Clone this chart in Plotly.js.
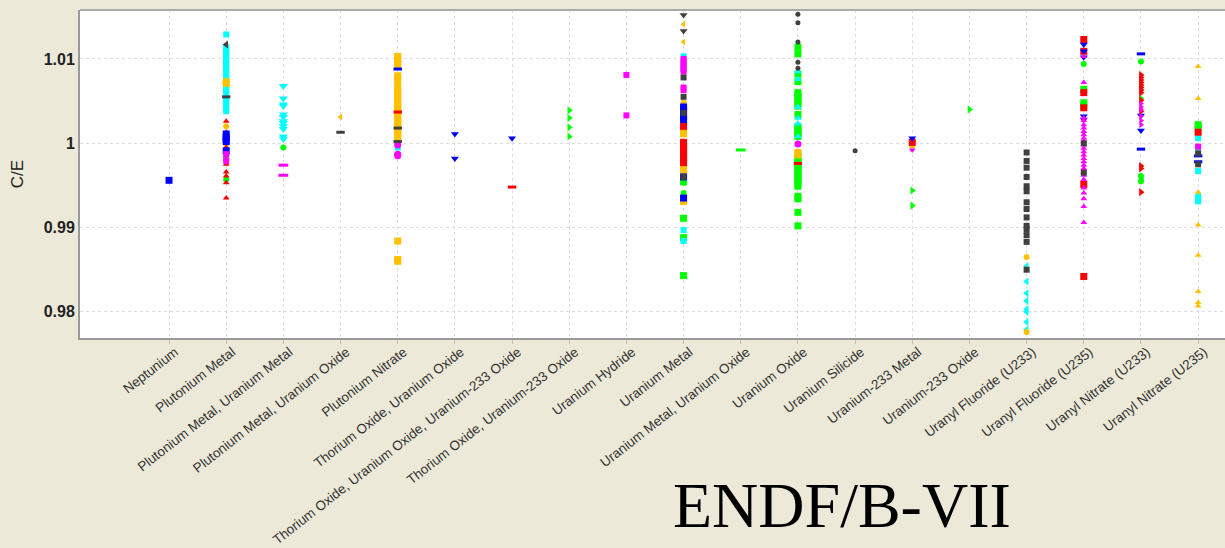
<!DOCTYPE html>
<html><head><meta charset="utf-8">
<script src="https://cdn.plot.ly/plotly-3.0.1.min.js"></script>
<style>html,body{margin:0;padding:0;background:#ECE9D8;}#chart{width:1225px;height:548px;}</style>
</head><body><div id="chart"></div>
<script>
const categories = ["Neptunium","Plutonium Metal","Plutonium Metal, Uranium Metal","Plutonium Metal, Uranium Oxide","Plutonium Nitrate","Thorium Oxide, Uranium Oxide","Thorium Oxide, Uranium Oxide, Uranium-233 Oxide","Thorium Oxide, Uranium-233 Oxide","Uranium Hydride","Uranium Metal","Uranium Metal, Uranium Oxide","Uranium Oxide","Uranium Silicide","Uranium-233 Metal","Uranium-233 Oxide","Uranyl Fluoride (U233)","Uranyl Fluoride (U235)","Uranyl Nitrate (U233)","Uranyl Nitrate (U235)"];
const yTickVals = [0.98, 0.99, 1, 1.01];
const yTickText = ["0.98", "0.99", "1", "1.01"];

// ---- series: category index + C/E value ----
const greenSqCat = [9,9,9,9,9, 11,11,11,11,11,11,11,11,11,11,11,11,11,11,11,11,11,11,11,11,11,11,11,11,11,11,11,11,11,11,11,11,11, 16,16,16, 18,18];
const greenSqCE  = [0.9961,0.9954,0.9911,0.9888,0.9843, 1.0114,1.0106,1.0082,1.0073,1.0060,1.0057,1.0054,1.0051,1.0047,1.0044,1.0034,1.0020,1.0017,1.0014,1.0011,1.0008,0.9985,0.9982,0.9979,0.9976,0.9973,0.9970,0.9967,0.9964,0.9961,0.9958,0.9955,0.9952,0.9949,0.9937,0.9934,0.9918,0.9902, 1.0064,1.0048,1.0044, 1.0022,1.0019];
const greenTriRCat = [7,7,7,7, 13,13, 14, 17,17];
const greenTriRCE  = [1.0039,1.0030,1.0019,1.0008, 0.9944,0.9926, 1.0040, 1.0053,0.9958];
const greenMiscCat = [1,2,9,16,17,17,17];
const greenMiscCE  = [0.9957,0.9995,0.9941,1.0094,1.0097,0.9961,0.9955];
const greenDashCat = [10];
const greenDashCE  = [0.9992];

const orangeSqCat = [1,1, 4,4,4,4,4,4,4,4,4,4,4,4,4,4,4,4,4,4,4,4,4,4,4,4,4,4,4,4,4, 9,9,9,9,9,9,9,9, 11,11];
const orangeSqCE  = [1.0073,1.0071, 1.0103,1.0100,1.0097,1.0093,1.0080,1.0077,1.0074,1.0066,1.0062,1.0059,1.0056,1.0051,1.0048,1.0045,1.0042,1.0040,1.0036,1.0032,1.0029,1.0025,1.0022,1.0019,1.0015,1.0012,1.0009,1.0005,0.9884,0.9862,0.9860, 1.0030,1.0015,1.0011,0.9973,0.9969,0.9966,0.9934,0.9931, 0.9989,0.9986];
const orangeTriCat = [18,18,18,18,18,18,18,18];
const orangeTriCE  = [1.0091,1.0053,0.9942,0.9903,0.9867,0.9824,0.9811,0.9807];
const orangeCircCat = [1,1,13,15,15,9];
const orangeCircCE  = [1.0020,0.9999,0.9997,0.9865,0.9776,1.0048];
const orangeMiscCat = [3,9,9];
const orangeMiscCE  = [1.0031,1.0141,1.0120];

const cyanSqCat = [1,1,1,1,1,1,1,1,1,1,1,1,1,1,1,1,1,1,1,1,1,1,1,1,1,1,1, 4,4,4, 9,9,9,9,9, 18,18,18,18,18,18];
const cyanSqCE  = [1.0129,1.0114,1.0110,1.0107,1.0104,1.0101,1.0097,1.0095,1.0091,1.0088,1.0086,1.0082,1.0079,1.0076,1.0071,1.0068,1.0066,1.0062,1.0059,1.0057,1.0053,1.0050,1.0047,1.0044,1.0041,1.0038,0.9985, 1.0054,1.0035,0.9995, 1.0103,1.0089,0.9966,0.9897,0.9884, 1.0006,0.9995,0.9967,0.9937,0.9933,0.9931];
const cyanTriDCat = [2,2,2,2,2,2,2,2,2,2,2,2];
const cyanTriDCE  = [1.0068,1.0053,1.0046,1.0044,1.0034,1.0031,1.0026,1.0024,1.0020,1.0017,1.0008,1.0005];
const cyanTriUCat = [11,11,11,11,11,11,11];
const cyanTriUCE  = [1.0085,1.0076,1.0043,1.0030,1.0023,1.0008,0.9987];
const cyanTriLCat = [15,15,15,15,15,15,15,15,15,15];
const cyanTriLCE  = [0.9922,0.9893,0.9854,0.9836,0.9822,0.9813,0.9803,0.9800,0.9788,0.9779];

const redTriUCat = [1,1,1,1,1,1,1,1,1,1];
const redTriUCE  = [1.0026,1.0013,0.9995,0.9985,0.9981,0.9975,0.9966,0.9961,0.9953,0.9935];
const redSqCat = [9,9,9,9,9,9,9,9,9,9, 16,16,16,16,16,16, 13, 18];
const redSqCE  = [1.0020,1.0001,0.9998,0.9995,0.9992,0.9989,0.9986,0.9983,0.9980,0.9977, 1.0123,1.0109,1.0060,1.0042,0.9951,0.9842, 1.0001, 1.0013];
const redTriRCat = [17,17,17,17,17,17,17,17,17,17,17,17,17];
const redTriRCE  = [1.0081,1.0078,1.0075,1.0072,1.0069,1.0066,1.0063,1.0060,1.0051,1.0038,0.9973,0.9970,0.9942];
const redDashCat = [6,11,4];
const redDashCE  = [0.9948,0.9976,1.0037];

const blueSqCat = [0, 1,1,1,1,1, 9,9,9,9,9,9,9];
const blueSqCE  = [0.9956, 1.0011,1.0007,1.0004,1.0002,0.9991, 1.0043,1.0040,1.0036,1.0032,1.0028,0.9960,0.9935];
const blueTriDCat = [5,5,6,13,16,16,16,16,16,17,17];
const blueTriDCE  = [1.0011,0.9982,1.0006,1.0006,1.0117,1.0109,1.0102,1.0032,1.0028,1.0033,1.0015];
const blueDashCat = [17,17,4,18,18];
const blueDashCE  = [1.0106,0.9993,1.0088,0.9985,0.9978];

const magentaSqCat = [1,1, 8,8, 9,9,9,9,9,9,9,9, 18];
const magentaSqCE  = [0.9987,0.9979, 1.0081,1.0033, 1.0100,1.0097,1.0094,1.0091,1.0088,1.0085,1.0066,1.0063, 0.9996];
const magentaDashCat = [2,2];
const magentaDashCE  = [0.9974,0.9962];
const magentaCircCat = [4,4,4,11];
const magentaCircCE  = [0.9998,0.9987,0.9985,0.9999];
const magentaTriUCat = [16,16,16,16,16,16,16,16,16,16,16,16,16,16,16,16,16,16,16,16,16,16,16,16,16,16];
const magentaTriUCE  = [1.0103,1.0072,1.0030,1.0027,1.0022,1.0018,1.0014,1.0010,1.0006,1.0002,0.9998,0.9994,0.9990,0.9986,0.9982,0.9978,0.9974,0.9970,0.9966,0.9962,0.9957,0.9947,0.9941,0.9934,0.9925,0.9906];
const magentaTriRCat = [17,17,17,17,17,17];
const magentaTriRCE  = [1.0047,1.0043,1.0040,1.0032,1.0027,1.0022];
const magentaTriDCat = [13];
const magentaTriDCE  = [0.9992];

const grayTriDCat = [9,9];
const grayTriDCE  = [1.0152,1.0133];
const grayTriLCat = [1];
const grayTriLCE  = [1.0117];
const grayCircCat = [11,11,11,11,11, 12];
const grayCircCE  = [1.0153,1.0143,1.0120,1.0096,1.0089, 0.9991];
const graySqCat = [9,9,9,9, 15,15,15,15,15,15,15,15,15,15,15,15,15,15, 16,16, 18,18];
const graySqCE  = [1.0078,1.0055,1.0036,0.9960, 0.9989,0.9979,0.9971,0.9960,0.9949,0.9943,0.9930,0.9922,0.9912,0.9902,0.9898,0.9891,0.9883,0.9850, 1.0000,0.9965, 0.9988,0.9975];
const grayDashCat = [1,3,4,4];
const grayDashCE  = [1.0055,1.0013,1.0018,1.0002];

const C = {green:"#00FF00", orange:"#FFC000", cyan:"#00FFFF", red:"#FF0000", blue:"#0000FF", magenta:"#FF00FF", gray:"#404040"};

function tr(cat, ce, color, symbol, size){
  const isLine = symbol === "line-ew";
  return {
    type: "scatter", mode: "markers", hoverinfo: "skip",
    x: cat.map(i => categories[i]), y: ce,
    marker: isLine
      ? {symbol: "line-ew-open", size: size || 7, color: color, line: {color: color, width: 3}}
      : {symbol: symbol, size: size || 7, color: color, line: {width: 0}}
  };
}

const data = [
  tr(greenSqCat, greenSqCE, C.green, "square", 7),
  tr(greenTriRCat, greenTriRCE, C.green, "triangle-right", 7),
  tr(greenMiscCat, greenMiscCE, C.green, "circle", 6),
  tr(greenDashCat, greenDashCE, C.green, "line-ew", 7),
  tr(cyanSqCat, cyanSqCE, C.cyan, "square", 6),
  tr(cyanTriDCat, cyanTriDCE, C.cyan, "triangle-down", 8),
  tr(cyanTriUCat, cyanTriUCE, C.cyan, "triangle-up", 7),
  tr(cyanTriLCat, cyanTriLCE, C.cyan, "triangle-left", 7),
  tr(orangeSqCat, orangeSqCE, C.orange, "square", 7),
  tr(orangeTriCat, orangeTriCE, C.orange, "triangle-up", 6),
  tr(orangeCircCat, orangeCircCE, C.orange, "circle", 6),
  tr(orangeMiscCat, orangeMiscCE, C.orange, "triangle-left", 6),
  tr(redTriUCat, redTriUCE, C.red, "triangle-up", 6),
  tr(redSqCat, redSqCE, C.red, "square", 7),
  tr(redTriRCat, redTriRCE, C.red, "triangle-right", 7),
  tr(redDashCat, redDashCE, C.red, "line-ew", 6),
  tr(blueSqCat, blueSqCE, C.blue, "square", 7),
  tr(blueTriDCat, blueTriDCE, C.blue, "triangle-down", 7),
  tr(blueDashCat, blueDashCE, C.blue, "line-ew", 6),
  tr(magentaSqCat, magentaSqCE, C.magenta, "square", 6),
  tr(magentaDashCat, magentaDashCE, C.magenta, "line-ew", 7),
  tr(magentaCircCat, magentaCircCE, C.magenta, "circle", 7),
  tr(magentaTriUCat, magentaTriUCE, C.magenta, "triangle-up", 6),
  tr(magentaTriRCat, magentaTriRCE, C.magenta, "triangle-right", 6),
  tr(magentaTriDCat, magentaTriDCE, C.magenta, "triangle-down", 6),
  tr(grayTriDCat, grayTriDCE, C.gray, "triangle-down", 7),
  tr(grayTriLCat, grayTriLCE, C.gray, "triangle-left", 7),
  tr(grayCircCat, grayCircCE, C.gray, "circle", 5),
  tr(graySqCat, graySqCE, C.gray, "square", 6),
  tr(grayDashCat, grayDashCE, C.gray, "line-ew", 6)
];

const layout = {
  width: 1225, height: 548,
  paper_bgcolor: "#ECE9D8", plot_bgcolor: "#FFFFFF",
  margin: {l: 80, r: 0, t: 10, b: 210},
  showlegend: false,
  font: {family: "Liberation Sans, Arial, sans-serif", color: "#222"},
  xaxis: {
    type: "category", categoryorder: "array", categoryarray: categories,
    range: [-1.557, 18.47], tickangle: -38,
    tickfont: {size: 13.5, color: "#333"},
    ticklabelshift: 6, ticklabelstandoff: -5,
    showgrid: true, gridcolor: "#DDDDDD", griddash: "dot", gridwidth: 1,
    showline: true, linecolor: "#999", linewidth: 2,
    ticks: "outside", ticklen: 4, tickcolor: "#BBBBBB", zeroline: false
  },
  yaxis: {
    range: [0.9769, 1.0158], tickvals: yTickVals, ticktext: yTickText,
    tickfont: {size: 16, color: "#222", weight: "bold"},
    showgrid: true, gridcolor: "#DDDDDD", griddash: "dot", gridwidth: 1,
    showline: true, linecolor: "#999", linewidth: 2, ticks: "", zeroline: false,
    title: {text: "C/E", font: {size: 17, color: "#222"}, standoff: 16}
  },
  shapes: [{type: "line", xref: "paper", yref: "paper", x0: 0, x1: 1, y0: 1, y1: 1, line: {color: "#AAAAAA", width: 2}}],
  annotations: [{
    text: "ENDF/B-VII", xref: "paper", yref: "paper", x: 0.6655, y: -0.51,
    xanchor: "center", yanchor: "middle", showarrow: false,
    font: {family: "Liberation Serif, Times New Roman, serif", size: 64, color: "#000"}
  }]
};

Plotly.newPlot("chart", data, layout, {displayModeBar: false, staticPlot: true});
</script></body></html>
